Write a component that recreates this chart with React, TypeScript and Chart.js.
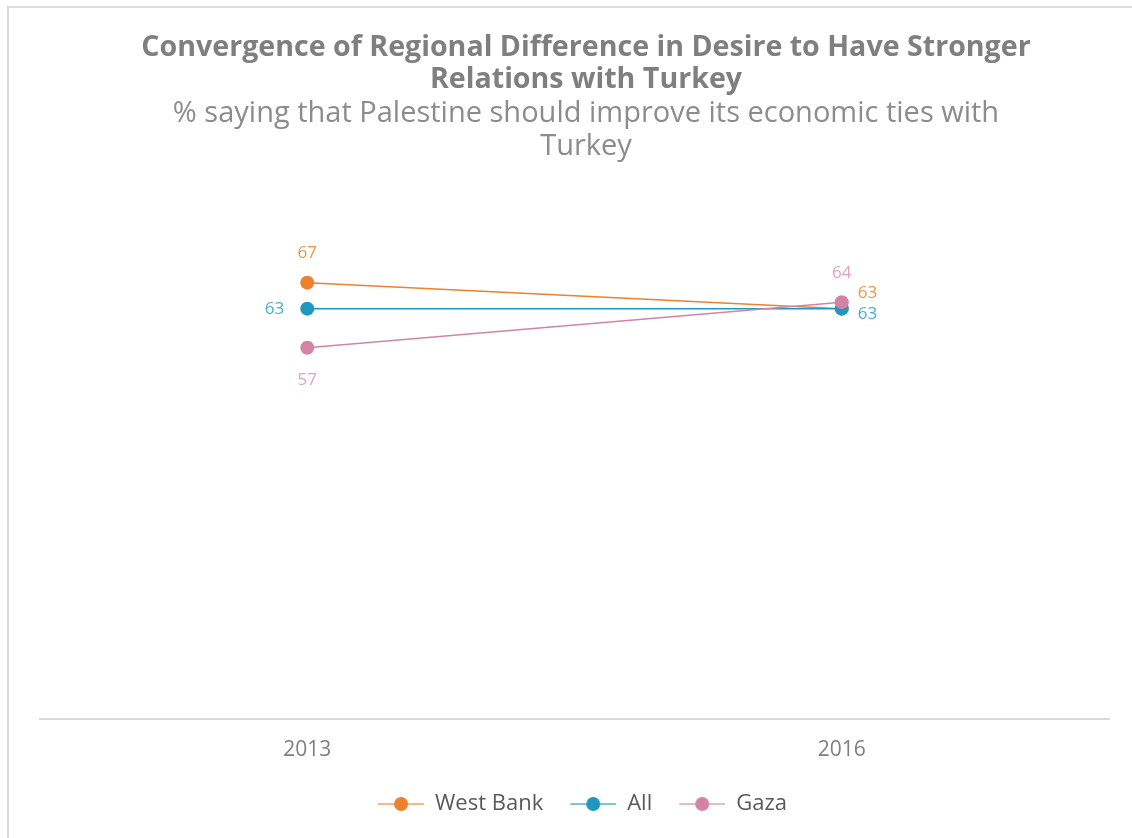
import React, { useEffect, useRef } from 'react';
import { Chart, registerables } from 'chart.js';
Chart.register(...registerables);

const years = ['2013', '2016'];
const westBank = [67, 63];
const allPal = [63, 63];
const gaza = [57, 64];
const seriesNames = ['West Bank', 'All', 'Gaza'];
const drawOrder = [2, 1, 0];
const lineColors = ['#EC812E', '#1F98BF', '#D383A6'];
const labelColors = ['#F0964A', '#4AADD2', '#E0A3BF'];
const titleLines = ['Convergence of Regional Difference in Desire to Have Stronger', 'Relations with Turkey'];
const subtitleLines = ['% saying that Palestine should improve its economic ties with', 'Turkey'];
// label placement per series, per point
const labelPlacement = [
  [{ pos: 'top', dy: 0 }, { pos: 'right', dy: -16 }],
  [{ pos: 'left', dy: 0 }, { pos: 'right', dy: 5 }],
  [{ pos: 'bottom', dy: 0 }, { pos: 'top', dy: 0 }],
];

const FONT = "'Open Sans', 'DejaVu Sans', sans-serif";

function legendIcon(color: string): HTMLCanvasElement {
  const c = document.createElement('canvas');
  const margin = 16;
  c.width = margin + 46;
  c.height = 16;
  const ctx = c.getContext('2d')!;
  ctx.strokeStyle = color;
  ctx.globalAlpha = 0.75;
  ctx.lineWidth = 1.5;
  ctx.beginPath();
  ctx.moveTo(margin, 8);
  ctx.lineTo(margin + 46, 8);
  ctx.stroke();
  ctx.globalAlpha = 1;
  ctx.fillStyle = color;
  ctx.beginPath();
  ctx.arc(margin + 23, 8, 7, 0, Math.PI * 2);
  ctx.fill();
  return c;
}

const titlePlugin = {
  id: 'titleBlock',
  afterDraw(chart: any) {
    const ctx = chart.ctx;
    ctx.save();
    ctx.textAlign = 'center';
    ctx.textBaseline = 'middle';
    const cx = 586;
    ctx.fillStyle = '#7f7f7f';
    ctx.font = `bold 28.6px ${FONT}`;
    ctx.fillText(titleLines[0], cx, 48);
    ctx.fillText(titleLines[1], cx, 80);
    ctx.fillStyle = '#8c8c8c';
    ctx.font = `29px ${FONT}`;
    ctx.fillText(subtitleLines[0], cx, 114);
    ctx.fillText(subtitleLines[1], cx, 147);
    ctx.restore();
  },
};

const dataLabelPlugin = {
  id: 'dataLabels',
  afterDatasetsDraw(chart: any) {
    const ctx = chart.ctx;
    ctx.save();
    ctx.font = `17px ${FONT}`;
    chart.data.datasets.forEach((ds: any, i: number) => {
      const meta = chart.getDatasetMeta(i);
      meta.data.forEach((pt: any, j: number) => {
        const place = labelPlacement[i][j];
        let x = pt.x;
        let y = pt.y + place.dy;
        ctx.fillStyle = labelColors[i];
        ctx.textBaseline = 'middle';
        ctx.textAlign = 'center';
        if (place.pos === 'top') y -= 29;
        if (place.pos === 'bottom') y += 32;
        if (place.pos === 'left') { x -= 23; ctx.textAlign = 'right'; }
        if (place.pos === 'right') { x += 16; ctx.textAlign = 'left'; }
        ctx.fillText(String(ds.data[j]), x, y);
      });
    });
    ctx.restore();
  },
};

export default function App() {
  const ref = useRef<HTMLCanvasElement>(null);
  useEffect(() => {
    document.body.style.margin = '0';
    const series = [westBank, allPal, gaza];
    const chart = new Chart(ref.current!, {
      type: 'line',
      data: {
        labels: years,
        datasets: series.map((d, i) => ({
          label: seriesNames[i],
          data: d,
          order: drawOrder[i],
          borderColor: lineColors[i],
          backgroundColor: lineColors[i],
          borderWidth: 1.5,
          pointStyle: 'circle',
          pointRadius: 7,
          pointHoverRadius: 7,
          pointBackgroundColor: lineColors[i],
          pointBorderWidth: 0,
          tension: 0,
        })),
      },
      options: {
        responsive: false,
        animation: false,
        events: [],
        layout: { padding: { left: 40, right: 23, top: 198, bottom: 13 } },
        scales: {
          x: {
            offset: true,
            grid: { display: false, drawTicks: false },
            border: { display: true, color: '#d9d9d9', width: 2 },
            ticks: { color: '#7f7f7f', font: { family: FONT, size: 21 }, padding: 19 },
          },
          y: {
            display: false,
            min: 0,
            max: 80,
          },
        },
        plugins: {
          title: { display: false },
          subtitle: { display: false },
          legend: {
            position: 'bottom',
            labels: {
              usePointStyle: true,
              pointStyleWidth: 62,
              color: '#595959',
              font: { family: FONT, size: 22 },
              padding: 11,
              generateLabels: (c: any) =>
                c.data.datasets.map((ds: any, i: number) => ({
                  text: ds.label,
                  pointStyle: legendIcon(lineColors[i]),
                  fillStyle: lineColors[i],
                  strokeStyle: lineColors[i],
                  lineWidth: 0,
                  fontColor: '#595959',
                  datasetIndex: i,
                  hidden: false,
                })),
            },
          },
          tooltip: { enabled: false },
        },
      },
      plugins: [dataLabelPlugin, titlePlugin],
    });
    return () => chart.destroy();
  }, []);
  return (
    <div style={{ position: 'relative', width: 1132, height: 838, overflow: 'hidden', background: '#fff' }}>
      <div
        style={{
          position: 'absolute',
          left: 7,
          top: 6,
          width: 1200,
          height: 900,
          borderTop: '2px solid #dcdcdc',
          borderLeft: '2px solid #dcdcdc',
        }}
      />
      <canvas ref={ref} width={1132} height={838} style={{ position: 'absolute', left: 0, top: 0 }} />
    </div>
  );
}
